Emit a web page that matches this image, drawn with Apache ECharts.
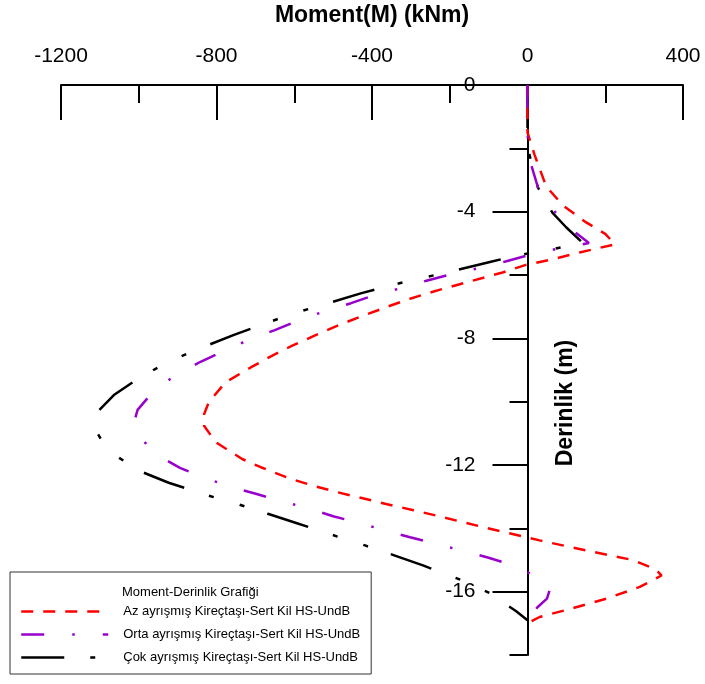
<!DOCTYPE html>
<html><head><meta charset="utf-8">
<script src="https://cdn.jsdelivr.net/npm/echarts@6/dist/echarts.min.js"></script>
<style>html,body{margin:0;padding:0;background:#fff}#c{width:705px;height:684px}</style>
</head><body><div id="c"></div>
<script>
// ---------- data ----------
const chartTitle = 'Moment-Derinlik Grafiği';
const xAxisTitle = 'Moment(M) (kNm)';
const yAxisTitle = 'Derinlik (m)';
const seriesNames = [
  'Az ayrışmış Kireçtaşı-Sert Kil HS-UndB',
  'Orta ayrışmış Kireçtaşı-Sert Kil HS-UndB',
  'Çok ayrışmış Kireçtaşı-Sert Kil HS-UndB'
];
const xMin = -1200, xMax = 400, xStep = 400;
const yMin = -18, yMax = 0;
const yMajorTicks = [0, -4, -8, -12, -16];
const yMinorTicks = [-2, -6, -10, -14, -18];

const depthAz = [0, -1.5, -2.2, -3.2, -3.8, -4.34, -4.7, -5.03, -5.29, -5.5,
  -5.68, -5.92, -6.18, -6.47, -6.74, -7.0, -7.29, -7.58, -7.9, -8.23,
  -8.6, -8.92, -9.39, -10.02, -10.4, -10.76, -11.28, -11.81, -12.07, -12.42,
  -12.65, -12.86, -13.05, -13.23, -13.42, -13.62, -13.96, -14.38, -14.7, -15.0,
  -15.3, -15.49, -15.85, -16.22, -16.52, -16.8, -17.0];
const momentAz = [0, 0, 18, 48, 91, 151, 200, 225, 134, 65,
  -4, -64, -141, -227, -300, -360, -424, -485, -545, -605,
  -665, -712, -777, -820, -832, -832, -802, -734, -686, -613,
  -553, -489, -424, -364, -296, -227, -115, 31, 151, 271,
  330, 345, 289, 203, 117, 31, 0];

const depthOrta = [0, -1.5, -2.0, -2.5, -3.24, -3.92, -4.6, -4.99, -5.18, -5.39,
  -5.58, -5.79, -5.92, -6.18, -6.42, -6.66, -6.89, -7.16, -7.46, -7.74,
  -8.04, -8.42, -8.74, -9.16, -9.68, -10.26, -10.65, -11.1, -11.72, -12.09,
  -12.42, -12.7, -12.91, -13.15, -13.38, -13.62, -13.84, -14.09, -14.28, -14.51,
  -14.73, -14.93, -15.19, -15.59, -15.91, -16.22, -16.5, -16.9];
const momentOrta = [0, 0, 3, 9, 27, 64, 117, 158, 74, -3,
  -59, -128, -180, -260, -327, -399, -454, -526, -594, -650,
  -716, -785, -841, -905, -963, -1003, -1012, -1000, -948, -894,
  -828, -760, -699, -631, -560, -500, -430, -360, -302, -230,
  -160, -100, -32, 33, 58, 50, 25, 0];

const depthCok = [0, -1.5, -2.2, -3.24, -4.03, -4.5, -5.0, -5.18, -5.37, -5.58,
  -5.9, -6.1, -6.34, -6.58, -6.97, -7.23, -7.58, -7.89, -8.39, -8.76,
  -9.26, -9.79, -10.28, -10.6, -10.91, -11.3, -11.67, -12.2, -12.56, -12.97,
  -13.23, -13.54, -13.83, -14.26, -14.54, -14.86, -15.17, -15.49, -15.65, -16.04,
  -16.62, -16.9];
const momentCok = [0, 0, 5, 27, 64, 100, 143, 65, -21, -94,
  -201, -274, -356, -429, -534, -607, -685, -755, -858, -927,
  -1000, -1064, -1103, -1112, -1110, -1092, -1064, -996, -923, -820,
  -747, -668, -595, -489, -418, -341, -269, -201, -167, -98,
  -29, 0];

// ---------- chart ----------
const FONT = "'Liberation Sans', Arial, sans-serif";
const zip = (m, d) => m.map((v, i) => [v, d[i]]);
const chart = echarts.init(document.getElementById('c'), null, {renderer: 'canvas'});

function yAxisDef(ticks, len, showLine, showLabel) {
  return {
    type: 'value', min: yMin, max: yMax, position: 'left',
    axisLine: {show: showLine, onZero: false, lineStyle: {color: '#000', width: 2}},
    axisTick: {show: true, customValues: ticks, length: len, lineStyle: {color: '#000', width: 2}},
    axisLabel: {show: showLabel, customValues: ticks, margin: 52, fontSize: 21, color: '#000',
      fontFamily: FONT, formatter: v => String(v)},
    splitLine: {show: false}
  };
}

const option = {
  animation: false,
  backgroundColor: '#fff',
  textStyle: {fontFamily: FONT},
  title: {
    text: chartTitle, left: 122, top: 586, padding: 0, z: 10,
    textStyle: {fontSize: 13, fontWeight: 'normal', color: '#000', fontFamily: FONT}
  },
  legend: {
    data: seriesNames, orient: 'vertical', left: 10, top: 572,
    padding: [33, 11, 10, 10], itemGap: 10, itemWidth: 87, itemHeight: 14,
    backgroundColor: '#fff', borderColor: '#333', borderWidth: 1,
    itemStyle: {opacity: 0, borderWidth: 0},
    lineStyle: {width: 2.5},
    textStyle: {fontSize: 13, color: '#000', fontFamily: FONT, padding: [0, 0, 0, 10]}
  },
  grid: {left: 61, right: 22, top: 85, bottom: 29, containLabel: false, outerBoundsMode: 'none'},
  xAxis: {
    type: 'value', position: 'top', min: xMin, max: xMax, interval: xStep,
    name: xAxisTitle, nameLocation: 'middle', nameGap: 58,
    nameTextStyle: {fontSize: 23, fontWeight: 'bold', color: '#000', fontFamily: FONT},
    axisLine: {onZero: false, lineStyle: {color: '#000', width: 2}},
    axisTick: {inside: true, length: 35, lineStyle: {color: '#000', width: 2}},
    minorTick: {show: true, splitNumber: 2, length: 18, lineStyle: {color: '#000', width: 2}},
    axisLabel: {margin: 18, fontSize: 21, color: '#000', fontFamily: FONT, formatter: v => String(v)},
    splitLine: {show: false}, minorSplitLine: {show: false}
  },
  yAxis: [yAxisDef(yMajorTicks, 35, true, true), yAxisDef(yMinorTicks, 18, false, false)],
  graphic: [{
    type: 'text', x: 566, y: 403, rotation: Math.PI / 2, z: 5,
    style: {text: yAxisTitle, font: 'bold 23px ' + FONT, fill: '#000', align: 'center', verticalAlign: 'middle'}
  }],
  series: [
    {name: seriesNames[0], type: 'line', symbol: 'none', symbolSize: 0, data: zip(momentAz, depthAz), z: 3,
     lineStyle: {color: '#ff0000', width: 2.5, type: [12, 10]}, itemStyle: {color: '#ff0000'}},
    {name: seriesNames[1], type: 'line', symbol: 'none', symbolSize: 0, data: zip(momentOrta, depthOrta), z: 4,
     lineStyle: {color: '#9900cc', width: 2.5, type: [23, 28, 2.5, 28]}, itemStyle: {color: '#9900cc'}},
    {name: seriesNames[2], type: 'line', symbol: 'none', symbolSize: 0, data: zip(momentCok, depthCok), z: 2,
     lineStyle: {color: '#000', width: 2.5, type: [43, 26, 5, 27, 5, 24]}, itemStyle: {color: '#000'}}
  ]
};
chart.setOption(option);
// move the depth axis onto moment = 0 (line, ticks and labels together)
const zeroPx = chart.convertToPixel({xAxisIndex: 0}, 0);
const leftPx = chart.convertToPixel({xAxisIndex: 0}, xMin);
const off = leftPx - zeroPx;
chart.setOption({yAxis: [{offset: off}, {offset: off}]});
</script></body></html>
